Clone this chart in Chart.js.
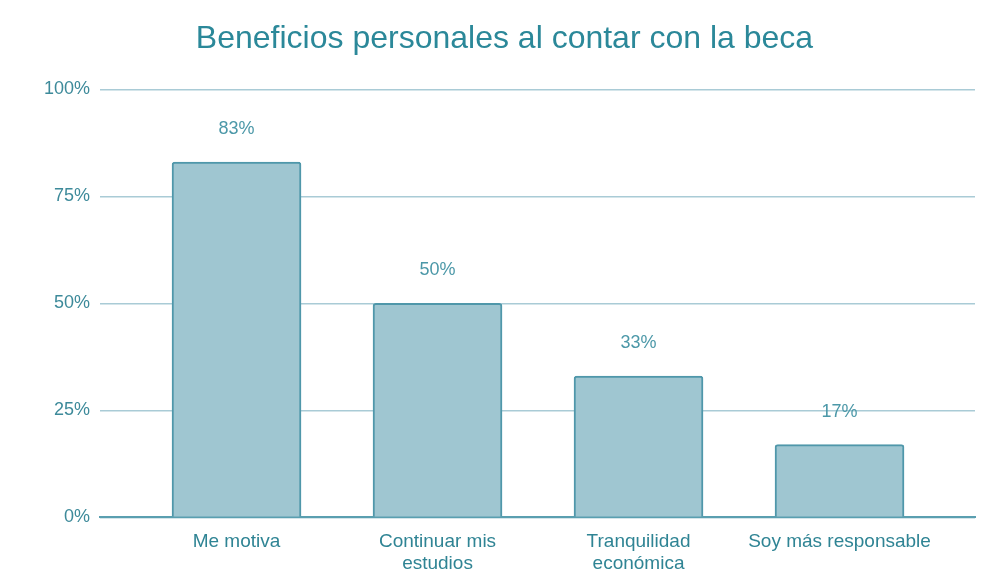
<!DOCTYPE html>
<html>
<head>
<meta charset="utf-8">
<script src="https://cdn.jsdelivr.net/npm/chart.js@4"></script>
<style>
  html, body { margin: 0; padding: 0; background: #fff; }
  #wrap { width: 987px; height: 569px; }
</style>
</head>
<body>
<div id="wrap"><canvas id="chart"></canvas></div>
<script>
const categories = [['Me motiva'], ['Continuar mis', 'estudios'], ['Tranquilidad', 'económica'], ['Soy más responsable']];
const values = [83, 50, 33, 17];
const yTicks = [0, 25, 50, 75, 100];

// draws the "83%" labels above each bar
const valueLabels = {
    id: 'valueLabels',
    afterDatasetsDraw(chart) {
        const ctx = chart.ctx;
        const meta = chart.getDatasetMeta(0);
        ctx.save();
        ctx.font = '18px "Liberation Sans", Arial, sans-serif';
        ctx.fillStyle = '#4c98a8';
        ctx.textAlign = 'center';
        ctx.textBaseline = 'middle';
        meta.data.forEach((bar, i) => {
            ctx.fillText(values[i] + '%', bar.x, bar.y - 33);
        });
        ctx.restore();
    }
};

const ctx = document.getElementById('chart').getContext('2d');
new Chart(ctx, {
    type: 'bar',
    data: {
        datasets: [{
            data: values.map((v, i) => ({ x: i, y: v })),
            backgroundColor: '#9fc6d1',
            borderColor: '#4f97aa',
            borderWidth: 2,
            borderRadius: 3,
            borderSkipped: 'bottom',
            barThickness: 129
        }]
    },
    options: {
        responsive: true,
        maintainAspectRatio: false,
        animation: false,
        layout: { padding: { left: 34, right: 12, top: 0, bottom: -12 } },
        plugins: {
            legend: { display: false },
            tooltip: { enabled: false },
            title: {
                display: true,
                text: 'Beneficios personales al contar con la beca',
                color: '#2b8899',
                font: { family: '"Liberation Sans", Arial, sans-serif', size: 32, weight: 'normal' },
                padding: { top: 20, bottom: 31 }
            }
        },
        scales: {
            x: {
                type: 'linear',
                offset: false,
                min: -0.679,
                max: 3.674,
                afterBuildTicks: scale => { scale.ticks = categories.map((c, i) => ({ value: i })); },
                grid: { display: false },
                border: { display: true, color: '#5a9fb0', width: 2 },
                ticks: {
                    color: '#2f8494',
                    font: { family: '"Liberation Sans", Arial, sans-serif', size: 19, lineHeight: 1.15 },
                    padding: 6,
                    maxRotation: 0,
                    autoSkip: false,
                    callback: v => categories[v]
                }
            },
            y: {
                min: 0,
                max: 100,
                afterBuildTicks: scale => { scale.ticks = yTicks.map(v => ({ value: v })); },
                grid: { color: '#a9cbd6', lineWidth: 1.5, drawTicks: false },
                border: { display: false },
                ticks: {
                    color: '#3d8a9a',
                    font: { family: '"Liberation Sans", Arial, sans-serif', size: 18 },
                    padding: 10,
                    callback: v => v + '%'
                }
            }
        }
    },
    plugins: [valueLabels]
});
</script>
</body>
</html>
